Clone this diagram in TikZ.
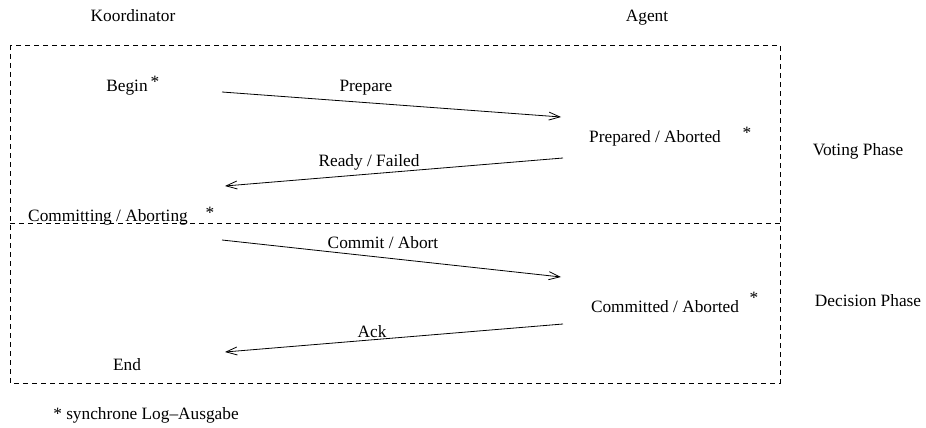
\documentclass[tikz,border=0pt]{standalone}
\usepackage{fontspec}
\setmainfont{Liberation Serif}
\usetikzlibrary{arrows.meta}
\begin{document}
\begin{tikzpicture}[x=1pt,y=-1pt,
  lbl/.style={anchor=base, inner sep=0pt, font=\fontsize{17.3}{20}\selectfont},
  msg/.style={line width=0.8pt, -{Straight Barb[length=11pt,width=8pt,line width=0.8pt]}},
  phase/.style={draw, line width=0.7pt, dash pattern=on 5pt off 4pt}]
\useasboundingbox (0,0) rectangle (926,428);

% column headings
\node[lbl] (koord) at (133,21.5) {Koordinator};
\node[lbl] (agent) at (647,21.5) {Agent};

% phase frame and separator
\draw[phase] (10,45) rectangle (780,383);
\draw[phase] (10,223) -- (780,223);

% coordinator states
\node[lbl] (begin) at (127,92) {Begin};
\node[lbl] (beginlog) at (155,88) {*};
\node[lbl] (committing) at (108,221) {Committing / Aborting};
\node[lbl] (committinglog) at (210,218) {*};
\node[lbl] (end) at (127,370) {End};

% agent states
\node[lbl] (prepared) at (655,142) {Prepared / Aborted};
\node[lbl] (preparedlog) at (747,138) {*};
\node[lbl] (committed) at (665,312) {Committed / Aborted};
\node[lbl] (committedlog) at (754,303) {*};

% message end points
\coordinate (prepS) at (222,92);
\coordinate (prepE) at (561,117);
\coordinate (readyS) at (563,158);
\coordinate (readyE) at (225,186);
\coordinate (commitS) at (222,240);
\coordinate (commitE) at (561,277);
\coordinate (ackS) at (563,324);
\coordinate (ackE) at (225,352);

% messages
\draw[msg] (prepS) -- (prepE);
\draw[msg] (readyS) -- (readyE);
\draw[msg] (commitS) -- (commitE);
\draw[msg] (ackS) -- (ackE);

% message labels
\node[lbl] (preplbl) at (366,92) {Prepare};
\node[lbl] (readylbl) at (369,166) {Ready / Failed};
\node[lbl] (commitlbl) at (383,248) {Commit / Abort};
\node[lbl] (acklbl) at (372,337) {Ack};

% phase names
\node[lbl] (voting) at (858,155) {Voting Phase};
\node[lbl] (decision) at (868,306) {Decision Phase};

% footnote
\node[lbl] (note) at (146,419) {* synchrone Log\textendash Ausgabe};
\end{tikzpicture}
\end{document}
